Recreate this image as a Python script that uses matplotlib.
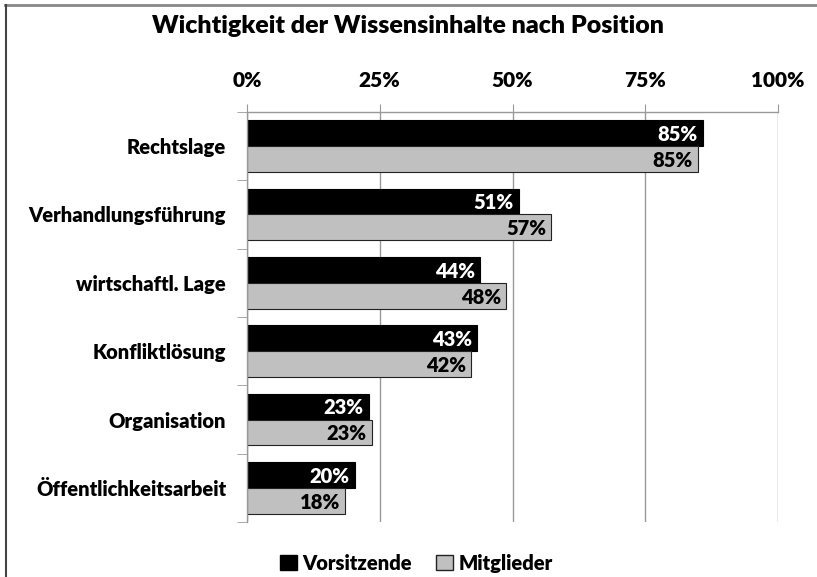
import matplotlib
matplotlib.use('Agg')
import matplotlib.pyplot as plt
from matplotlib.lines import Line2D
from matplotlib.patches import Patch
import numpy as np

plt.rcParams['font.family'] = ['Lato', 'DejaVu Sans']
W = 'heavy'

categories = ['Rechtslage', 'Verhandlungsführung', 'wirtschaftl. Lage',
              'Konfliktlösung', 'Organisation', 'Öffentlichkeitsarbeit']
vorsitzende = [0.859, 0.512, 0.439, 0.433, 0.230, 0.203]
mitglieder = [0.849, 0.573, 0.488, 0.422, 0.235, 0.185]
vors_labels = ['85%', '51%', '44%', '43%', '23%', '20%']
mitg_labels = ['85%', '57%', '48%', '42%', '23%', '18%']
xticks = [0, 0.25, 0.5, 0.75, 1.0]
xtick_labels = ['0%', '25%', '50%', '75%', '100%']

fig = plt.figure(figsize=(8.17, 5.77), dpi=100)
ax = fig.add_axes([0.3023, 0.0953, 0.650, 0.7106])

y = np.arange(len(categories))
h = 0.38
b1 = ax.barh(y - h / 2, vorsitzende, height=h, color='black', edgecolor='black', linewidth=0.8)
b2 = ax.barh(y + h / 2, mitglieder, height=h, color='#c0c0c0', edgecolor='#222222', linewidth=0.8)

for rect, lab in zip(b1, vors_labels):
    ax.text(rect.get_width() - 0.010, rect.get_y() + rect.get_height() / 2 + 0.02, lab,
            ha='right', va='center', color='white', fontsize=14.5, fontweight=W)
for rect, lab in zip(b2, mitg_labels):
    ax.text(rect.get_width() - 0.010, rect.get_y() + rect.get_height() / 2 + 0.02, lab,
            ha='right', va='center', color='black', fontsize=14.5, fontweight=W)

ax.set_xlim(0, 1)
ax.set_ylim(len(categories) - 0.5, -0.5)

ax.xaxis.tick_top()
ax.set_xticks(xticks)
ax.set_xticklabels(xtick_labels, fontsize=15, fontweight=W)
ax.tick_params(axis='x', length=6, color='#999999', pad=10)
ax.grid(axis='x', color='#999999', linewidth=1)
ax.set_axisbelow(True)

ax.set_yticks(y)
ax.set_yticklabels(categories, fontsize=14.5, fontweight=W)
ax.set_yticks(np.arange(len(categories) + 1) - 0.5, minor=True)
ax.tick_params(axis='y', which='major', length=0, pad=15)
ax.tick_params(axis='y', which='minor', length=7, color='#999999')

for s in ['right', 'bottom']:
    ax.spines[s].set_visible(False)
for s in ['left', 'top']:
    ax.spines[s].set_color('#999999')
    ax.spines[s].set_linewidth(1)

fig.text(0.5, 0.955, 'Wichtigkeit der Wissensinhalte nach Position',
         ha='center', va='center', fontsize=18, fontweight=W)

handles = [Patch(facecolor='black', edgecolor='black', label='Vorsitzende'),
           Patch(facecolor='#c0c0c0', edgecolor='#222222', label='Mitglieder')]
fig.legend(handles=handles, loc='center', bbox_to_anchor=(0.51, 0.024), ncol=2,
           frameon=False, prop={'size': 14.5, 'weight': W}, handlelength=0.8, handleheight=0.8,
           handletextpad=0.3, columnspacing=1.2)

# frame lines at top and left of the picture
fig.add_artist(Line2D([0.006, 1.0], [0.991, 0.991], color='#888888', linewidth=2, transform=fig.transFigure))
fig.add_artist(Line2D([0.007, 0.007], [0.0, 0.991], color='#444444', linewidth=1.5, transform=fig.transFigure))

fig.savefig('out.png', dpi=100)
